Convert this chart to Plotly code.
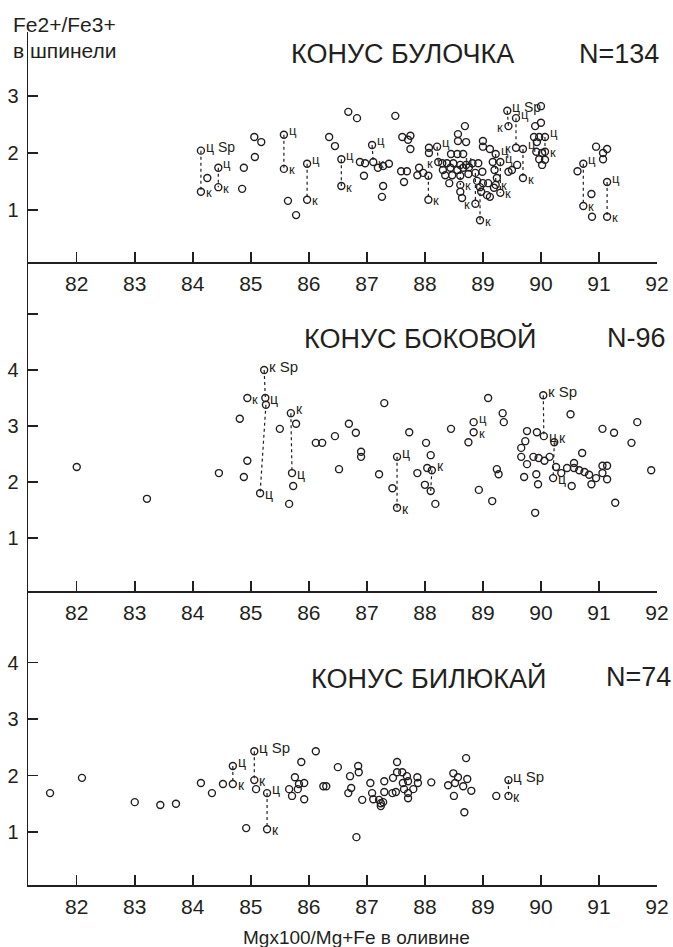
import plotly.graph_objects as go

# ---------------- DATA ----------------
x_ticks = [82, 83, 84, 85, 86, 87, 88, 89, 90, 91, 92]
x_tick_labels = [str(v) for v in x_ticks]

panel_titles = ["КОНУС БУЛОЧКА", "КОНУС БОКОВОЙ", "КОНУС БИЛЮКАЙ"]
panel_counts = ["N=134", "N-96", "N=74"]

# Panel 1 - Булочка : unlabeled points
p1_x = [84.25, 84.88, 84.85, 85.06, 85.18, 85.07, 85.64, 85.78, 86.35, 86.45, 86.68, 86.83, 87.49,
        86.88, 86.97, 87.19, 87.28, 87.38, 86.95, 87.28, 87.26, 87.61, 87.75, 87.71, 87.75, 87.59,
        87.69, 87.64, 87.90, 87.87, 87.97, 88.07, 88.07, 88.69, 88.57, 88.57, 88.71, 88.45, 88.56,
        88.66, 88.30, 88.38, 88.49, 88.82, 88.92, 88.31, 88.44, 88.56, 88.66, 88.76, 88.35, 88.47,
        88.61, 88.75, 88.99, 88.42, 88.90, 89.00, 89.09, 88.61, 88.97, 89.07, 89.19, 88.64, 89.12,
        89.00, 89.00, 89.12, 89.17, 89.20, 89.24, 89.44, 89.50, 89.59, 90.00, 89.90, 90.00, 89.88,
        89.97, 89.93, 89.92, 90.02, 89.97, 90.07, 90.02, 90.95, 91.07, 91.14, 91.07, 90.63, 90.87,
        90.88, 88.71]
p1_y = [1.56, 1.74, 1.37, 2.28, 2.19, 1.93, 1.16, 0.91, 2.28, 2.12, 2.72, 2.61, 2.65,
        1.84, 1.82, 1.74, 1.77, 1.81, 1.60, 1.42, 1.23, 2.28, 2.30, 2.23, 2.07, 1.68,
        1.68, 1.49, 1.74, 1.61, 1.65, 2.09, 2.00, 2.47, 2.33, 2.21, 2.19, 1.98, 1.98,
        1.98, 1.82, 1.82, 1.82, 1.82, 1.82, 1.70, 1.74, 1.70, 1.74, 1.75, 1.61, 1.61,
        1.60, 1.63, 1.67, 1.47, 1.51, 1.47, 1.47, 1.32, 1.32, 1.26, 1.39, 1.21, 1.23,
        2.21, 2.11, 2.07, 1.84, 1.70, 1.56, 1.67, 1.70, 1.79, 2.82, 2.47, 2.53, 2.28,
        2.28, 2.19, 2.02, 2.00, 1.89, 1.88, 1.79, 2.11, 2.00, 2.07, 1.89, 1.68, 1.28,
        0.88, 1.79]
# Panel 1 pairs (centre "ц" / rim "к" of the same spinel grain)
p1_pair_xt = [84.14, 84.44, 85.57, 85.97, 86.56, 87.09, 88.06, 88.21, 88.61, 88.87, 88.95, 89.22, 89.30, 89.42, 89.57, 89.69, 90.07, 90.73, 91.14]
p1_pair_yt = [2.04, 1.74, 2.32, 1.81, 1.89, 2.14, 1.60, 2.11, 1.79, 1.65, 1.40, 1.98, 1.84, 2.74, 2.61, 2.07, 2.28, 1.81, 1.49]
p1_pair_xb = [84.14, 84.44, 85.57, 85.97, 86.56, 87.11, 88.06, 88.23, 88.61, 88.87, 88.95, 89.22, 89.30, 89.44, 89.57, 89.69, 90.07, 90.73, 91.14]
p1_pair_yb = [1.32, 1.40, 1.72, 1.18, 1.42, 1.84, 1.18, 1.84, 1.44, 1.11, 0.82, 1.44, 1.30, 2.47, 2.09, 1.56, 2.02, 1.07, 0.88]
p1_pair_lt = ["ц Sp", "ц", "ц", "ц", "ц", "ц", "", "ц", "ц", "", "", "ц", "ц", "ц Sp", "ц", "ц", "ц", "ц", "ц"]
p1_pair_lb = ["к", "к", "к", "к", "к", "к", "к", "к", "к", "к", "к", "к", "к", "к", "к", "к", "к", "к", "к"]
p1_pair_sb = ["r", "r", "r", "r", "r", "r", "r", "l", "r", "l", "r", "r", "r", "l", "l", "r", "r", "r", "r"]
p1_single_x, p1_single_y, p1_single_l = [], [], []

# Panel 2 - Боковой
p2_x = [82.00, 83.21, 84.45, 84.81, 84.94, 84.88, 85.50, 85.78, 85.73, 85.66, 86.12, 86.23, 86.45,
        86.52, 86.69, 86.81, 86.90, 86.90, 87.30, 87.21, 87.44, 87.73, 88.02, 88.10, 87.87, 88.04,
        88.00, 88.18, 88.45, 88.75, 89.09, 89.34, 89.36, 88.93, 89.16, 89.24, 89.27, 90.51, 89.76,
        89.93, 89.73, 89.66, 89.66, 89.76, 89.87, 89.96, 90.06, 90.15, 90.26, 90.35, 90.45, 90.57,
        90.57, 90.66, 90.75, 90.83, 90.95, 90.71, 91.06, 91.14, 91.06, 91.14, 90.87, 90.53, 91.06,
        91.26, 91.66, 91.56, 91.90, 91.28, 89.71, 89.92, 89.95, 89.90]
p2_y = [2.27, 1.70, 2.16, 3.13, 2.38, 2.09, 2.95, 3.04, 1.93, 1.61, 2.70, 2.70, 2.82,
        2.23, 3.04, 2.88, 2.54, 2.45, 3.41, 2.14, 1.89, 2.89, 2.70, 2.48, 2.16, 2.25,
        1.95, 1.61, 2.95, 2.71, 3.50, 3.23, 3.07, 1.86, 1.66, 2.23, 2.14, 3.21, 2.91,
        2.89, 2.73, 2.61, 2.45, 2.32, 2.45, 2.43, 2.38, 2.45, 2.27, 2.16, 2.25, 2.34,
        2.25, 2.21, 2.18, 2.13, 2.07, 2.52, 2.29, 2.29, 2.16, 2.05, 1.96, 1.93, 2.95,
        2.88, 3.07, 2.70, 2.21, 1.63, 2.09, 2.14, 1.96, 1.45]
p2_pair_xt = [85.23, 85.26, 85.69, 87.52, 88.12, 90.04, 90.23]
p2_pair_yt = [4.00, 3.38, 3.23, 2.45, 2.21, 3.55, 2.71]
p2_pair_xb = [85.25, 85.16, 85.71, 87.52, 88.10, 90.05, 90.21]
p2_pair_yb = [3.50, 1.80, 2.16, 1.54, 1.84, 2.82, 2.07]
p2_pair_lt = ["к Sp", "", "к", "ц", "к", "к Sp", "к"]
p2_pair_lb = ["ц", "ц", "ц", "к", "", "ц", "ц"]
p2_pair_sb = ["r", "r", "r", "r", "r", "r", "r"]
p2_single_x = [84.94, 88.84, 88.84]
p2_single_y = [3.50, 3.07, 2.89]
p2_single_l = ["к", "ц", "к"]

# Panel 3 - Билюкай
p3_x = [81.54, 82.09, 83.00, 83.44, 83.71, 84.14, 84.33, 84.52, 85.09, 84.92, 85.66, 85.71, 85.76,
        85.81, 85.83, 85.87, 85.92, 85.92, 86.12, 86.25, 86.30, 86.50, 86.71, 86.68, 86.73, 86.85,
        86.86, 86.92, 86.82, 87.06, 87.09, 87.11, 87.21, 87.24, 87.28, 87.24, 87.30, 87.30, 87.44,
        87.50, 87.45, 87.52, 87.52, 87.61, 87.62, 87.64, 87.69, 87.71, 87.71, 87.71, 87.80, 87.87,
        87.88, 88.11, 88.40, 88.49, 88.52, 88.57, 88.50, 88.71, 88.73, 88.66, 88.80, 88.68, 89.23]
p3_y = [1.69, 1.96, 1.53, 1.48, 1.50, 1.87, 1.69, 1.85, 1.76, 1.07, 1.76, 1.64, 1.97,
        1.76, 1.85, 2.24, 1.87, 1.58, 2.43, 1.81, 1.81, 2.15, 1.99, 1.69, 1.78, 2.17,
        2.06, 1.57, 0.91, 1.87, 1.69, 1.58, 1.57, 1.51, 1.53, 1.46, 1.71, 1.90, 1.69,
        1.71, 1.96, 2.24, 2.06, 2.06, 1.87, 1.76, 1.99, 1.90, 1.69, 1.60, 1.76, 1.97,
        1.87, 1.88, 1.83, 2.04, 1.87, 1.97, 1.64, 2.31, 1.94, 1.81, 1.73, 1.35, 1.64]
p3_pair_xt = [84.69, 85.06, 85.28, 89.44]
p3_pair_yt = [2.17, 2.43, 1.69, 1.92]
p3_pair_xb = [84.69, 85.06, 85.28, 89.44]
p3_pair_yb = [1.85, 1.92, 1.05, 1.64]
p3_pair_lt = ["ц", "ц Sp", "ц", "ц Sp"]
p3_pair_lb = ["к", "к", "к", "к"]
p3_pair_sb = ["r", "r", "r", "r"]
p3_single_x, p3_single_y, p3_single_l = [], [], []

# ---------------- STYLE ----------------
INK = "#231f20"
FONT = "Liberation Sans, Arial, sans-serif"
W, H = 673, 947
ML, MR, MT, MB = 28, 16, 32, 62
PH = H - MT - MB
PW = W - ML - MR


def py2paper(py):
    return (H - MB - py) / PH


def px2paper(px):
    return (px - ML) / PW


domains = [[py2paper(262), 1.0], [py2paper(591), py2paper(262)], [0.0, py2paper(591)]]
yranges = [[0.088, 4.12], [0.054, 5.93], [0.062, 5.27]]
ytickvals = [[1, 2, 3], [1, 2, 3, 4, 5], [1, 2, 3, 4]]
yticktext = [["1", "2", "3"], ["1", "2", "3", "4", ""], ["1", "2", "3", "4"]]
label_sizes = [13, 14, 14]

panels = [
    (p1_x, p1_y, p1_pair_xt, p1_pair_yt, p1_pair_xb, p1_pair_yb, p1_pair_lt, p1_pair_lb, p1_pair_sb,
     p1_single_x, p1_single_y, p1_single_l),
    (p2_x, p2_y, p2_pair_xt, p2_pair_yt, p2_pair_xb, p2_pair_yb, p2_pair_lt, p2_pair_lb, p2_pair_sb,
     p2_single_x, p2_single_y, p2_single_l),
    (p3_x, p3_y, p3_pair_xt, p3_pair_yt, p3_pair_xb, p3_pair_yb, p3_pair_lt, p3_pair_lb, p3_pair_sb,
     p3_single_x, p3_single_y, p3_single_l),
]

fig = go.Figure()
annotations = []
layout = dict(
    template="none",
    width=W, height=H, margin=dict(l=ML, r=MR, t=MT, b=MB, autoexpand=False),
    paper_bgcolor="white", plot_bgcolor="white", showlegend=False,
    font=dict(family=FONT, color=INK),
)

for i, (xs, ys, xt, yt, xb, yb, lt, lb, sb, sx, sy, sl) in enumerate(panels):
    LBL = label_sizes[i]
    sfx = "" if i == 0 else str(i + 1)
    xa, ya = "x" + sfx, "y" + sfx
    # dotted lines between centre and rim analyses
    lx, ly = [], []
    for a, b, c, d in zip(xt, yt, xb, yb):
        lx += [a, c, None]
        ly += [b, d, None]
    fig.add_trace(go.Scatter(x=lx, y=ly, mode="lines", xaxis=xa, yaxis=ya,
                             line=dict(color=INK, width=1.2, dash="dot"), hoverinfo="skip"))
    allx = list(xs) + list(xt) + list(xb) + list(sx)
    ally = list(ys) + list(yt) + list(yb) + list(sy)
    fig.add_trace(go.Scatter(x=allx, y=ally, mode="markers", xaxis=xa, yaxis=ya,
                             marker=dict(symbol="circle-open", size=7, color=INK,
                                         line=dict(width=1.4, color=INK))))
    # labels
    for a, b, t in zip(xt, yt, lt):
        if t:
            annotations.append(dict(x=a, y=b, xref=xa, yref=ya, text=t, showarrow=False,
                                    xanchor="left", yanchor="middle", xshift=3, yshift=4,
                                    font=dict(size=LBL + (1 if "Sp" in t else 0), color=INK, family=FONT)))
    for c, d, t, s in zip(xb, yb, lb, sb):
        if t:
            annotations.append(dict(x=c, y=d, xref=xa, yref=ya, text=t, showarrow=False,
                                    xanchor="left" if s == "r" else "right", yanchor="middle",
                                    xshift=3 if s == "r" else -3, yshift=-1,
                                    font=dict(size=LBL, color=INK, family=FONT)))
    for a, b, t in zip(sx, sy, sl):
        annotations.append(dict(x=a, y=b, xref=xa, yref=ya, text=t, showarrow=False,
                                xanchor="left", yanchor="middle", xshift=3,
                                yshift=4 if t == "ц" else -1,
                                font=dict(size=LBL - 1, color=INK, family=FONT)))

    layout["xaxis" + sfx] = dict(
        domain=[0, 1], anchor=ya, range=[81.16, 92.0], tickvals=x_ticks, ticktext=x_tick_labels,
        ticks="inside", ticklen=10, tickwidth=1.5, tickcolor=INK, showline=True, linecolor=INK,
        linewidth=1.5, showgrid=False, zeroline=False, tickfont=dict(size=21, color=INK, family=FONT),
        fixedrange=True, automargin=False, ticklabelstandoff=2,
    )
    layout["yaxis" + sfx] = dict(
        domain=domains[i], anchor=xa, range=yranges[i], tickvals=ytickvals[i], ticktext=yticktext[i],
        ticks="inside", ticklen=10, tickwidth=1.5, tickcolor=INK, showline=True, linecolor=INK,
        linewidth=1.5, showgrid=False, zeroline=False, tickfont=dict(size=20, color=INK, family=FONT),
        fixedrange=True, automargin=False, ticklabelstandoff=4,
    )

# Titles and counts
title_pos = [(402, 54), (420, 338), (428, 678)]
count_pos = [(619, 54), (636, 338), (638, 677)]
for (tx, ty), t in zip(title_pos, panel_titles):
    annotations.append(dict(x=px2paper(tx), y=py2paper(ty), xref="paper", yref="paper", text=t,
                            showarrow=False, xanchor="center", yanchor="middle",
                            font=dict(size=27, color=INK, family=FONT)))
for (tx, ty), t in zip(count_pos, panel_counts):
    annotations.append(dict(x=px2paper(tx), y=py2paper(ty), xref="paper", yref="paper", text=t,
                            showarrow=False, xanchor="center", yanchor="middle",
                            font=dict(size=27, color=INK, family=FONT)))

# axis titles
annotations.append(dict(x=px2paper(11), y=py2paper(25), xref="paper", yref="paper", text="Fe2+/Fe3+",
                        showarrow=False, xanchor="left", yanchor="middle",
                        font=dict(size=21, color=INK, family=FONT)))
annotations.append(dict(x=px2paper(11), y=py2paper(50), xref="paper", yref="paper", text="в шпинели",
                        showarrow=False, xanchor="left", yanchor="middle",
                        font=dict(size=21, color=INK, family=FONT)))
annotations.append(dict(x=px2paper(356), y=py2paper(937), xref="paper", yref="paper",
                        text="Mgx100/Mg+Fe в оливине", showarrow=False, xanchor="center",
                        yanchor="middle", font=dict(size=19, color=INK, family=FONT)))

layout["annotations"] = annotations
fig.update_layout(**layout)
fig.write_html("out.html", config={"displayModeBar": False, "staticPlot": True},
               post_script="document.body.style.margin='0';document.body.style.overflow='hidden';")
